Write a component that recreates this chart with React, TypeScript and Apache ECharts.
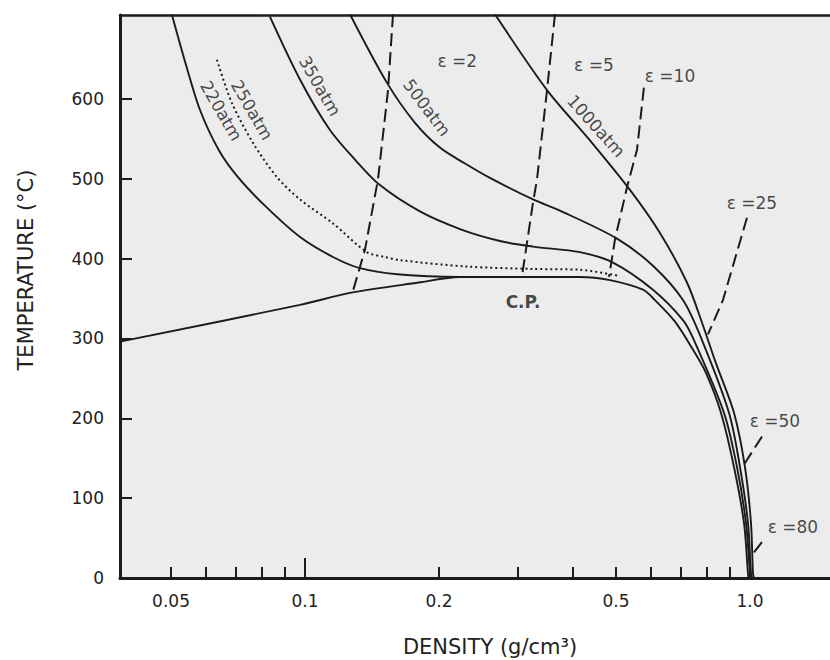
import React, { useEffect, useRef } from "react";
import * as echarts from "echarts";

// Axis ticks / labels
const DENSITY_TICKS = [0.05, 0.06, 0.07, 0.08, 0.09, 0.1, 0.2, 0.3, 0.4, 0.5, 0.6, 0.7, 0.8, 0.9, 1.0];
const DENSITY_LABELS = [0.05, 0.1, 0.2, 0.5, 1.0];
const TEMP_TICKS = [0, 100, 200, 300, 400, 500, 600];

// [density g/cm3, temperature C]
const SAT_VAPOR = [[0.0384, 296], [0.0975, 342], [0.1262, 357], [0.18, 370], [0.223, 377], [0.25, 377]];
const ATM_220 = [
  [0.0502, 706], [0.054, 643], [0.0581, 586], [0.064, 536], [0.0707, 502], [0.0817, 465],
  [0.0975, 427], [0.1156, 402], [0.1329, 388], [0.1635, 380], [0.223, 377], [0.304, 377],
  [0.415, 377], [0.4847, 373], [0.5748, 361], [0.6116, 348], [0.6785, 321], [0.7445, 286],
  [0.7963, 257], [0.8605, 207], [0.9206, 139], [0.9694, 69], [0.9897, 6], [0.9923, 0],
];
const ATM_250 = [
  [0.0634, 649], [0.0685, 595], [0.0764, 545], [0.0865, 502], [0.0975, 474], [0.1156, 444],
  [0.1378, 408], [0.1512, 402], [0.1635, 398], [0.2312, 390], [0.3254, 387], [0.4149, 386],
  [0.5104, 378],
];
const ATM_350 = [
  [0.0834, 703], [0.0975, 624], [0.1138, 561], [0.1295, 524], [0.1474, 492], [0.1813, 459],
  [0.223, 437], [0.2743, 422], [0.3254, 415], [0.4149, 408], [0.4922, 395], [0.6053, 361],
  [0.707, 323], [0.7484, 298], [0.8741, 207], [0.935, 139], [0.9795, 69], [1.0, 6], [1.0026, 0],
];
const ATM_500 = [
  [0.1262, 706], [0.1529, 620], [0.1767, 570], [0.201, 539], [0.2289, 519], [0.2604, 501],
  [0.3254, 474], [0.3741, 460], [0.5025, 425], [0.6053, 391], [0.707, 348], [0.78, 298],
  [0.8971, 207], [0.9496, 139], [0.9897, 69], [1.0052, 6], [1.0104, 0],
];
const ATM_1000 = [
  [0.2673, 706], [0.3499, 611], [0.4369, 548], [0.5374, 486], [0.6277, 432], [0.7218, 370],
  [0.78, 320], [0.8385, 269], [0.9206, 207], [0.9744, 139], [1.0052, 69], [1.0156, 6], [1.021, 0],
];
const EPS_2 = [[0.1577, 706], [0.1537, 611], [0.1459, 499], [0.1364, 411], [0.1275, 355]];
const EPS_5 = [[0.3646, 706], [0.3499, 611], [0.3322, 499], [0.3254, 470], [0.3074, 378]];
const EPS_10 = [[0.5777, 614], [0.5573, 536], [0.5296, 490], [0.4974, 424], [0.4822, 377]];
const EPS_25 = [[0.9846, 451], [0.8696, 348], [0.8045, 305]];
const EPS_50 = [[1.064, 177], [0.959, 138]];
const EPS_80 = [[1.064, 45], [1.0104, 29]];

// labels: [density, temperature, text, rotation(deg)]
const CURVE_LABELS: [number, number, string, number][] = [
  [0.0648, 585, "220atm", -60],
  [0.076, 586, "250atm", -60],
  [0.108, 616, "350atm", -60],
  [0.188, 589, "500atm", -53],
  [0.451, 566, "1000atm", -48],
];
const EPS_LABELS: [number, number, string][] = [
  [0.22, 647, "ε =2"],
  [0.446, 643, "ε =5"],
  [0.661, 629, "ε =10"],
  [1.01, 469, "ε =25"],
  [1.138, 197, "ε =50"],
  [1.249, 64, "ε =80"],
];
const CP_LABEL: [number, number, string] = [0.309, 346, "C.P."];

const X_MIN = 0.0384;
const X_MAX = 1.513;
const Y_MAX = 705;

const INK = "#1b1b1b";
const FONT = "DejaVu Sans";

export default function App() {
  const ref = useRef<HTMLDivElement>(null);

  useEffect(() => {
    const chart = echarts.init(ref.current!, null, { renderer: "svg", width: 830, height: 660 });

    const curve = (name: string, data: number[][], type: any = "solid", smooth: any = 0.3) => ({
      type: "line",
      name,
      data,
      symbol: "none",
      showSymbol: false,
      smooth,
      silent: true,
      z: 3,
      lineStyle: { color: INK, width: type === "solid" ? 1.9 : 2, type },
    });

    const fmtDensity = (v: number) => {
      const r = Number(v.toPrecision(3));
      return Math.abs(r - 1) < 1e-6 ? "1.0" : String(r);
    };

    const labelSeries = {
      type: "scatter",
      symbolSize: 0,
      silent: true,
      z: 5,
      data: [
        ...CURVE_LABELS.map(([d, t, s, r]) => ({
          value: [d, t],
          label: { show: true, position: "inside", formatter: s, rotate: r, fontSize: 17 },
        })),
        ...EPS_LABELS.map(([d, t, s]) => ({
          value: [d, t],
          label: { show: true, position: "inside", formatter: s, fontSize: 17 },
        })),
        {
          value: [CP_LABEL[0], CP_LABEL[1]],
          label: { show: true, position: "inside", formatter: CP_LABEL[2], fontSize: 17, fontWeight: "bold" },
        },
      ],
      label: { color: INK, fontFamily: FONT, align: "center", verticalAlign: "middle" },
    };

    chart.setOption({
      animation: false,
      backgroundColor: "#ffffff",
      textStyle: { fontFamily: FONT },
      grid: {
        left: 120,
        right: 0,
        top: 15,
        bottom: 82,
        show: true,
        backgroundColor: "#ececec",
        borderWidth: 0,
        containLabel: false,
        outerBoundsMode: "none",
      },
      xAxis: [
        {
          type: "log",
          logBase: 10,
          min: X_MIN,
          max: X_MAX,
          position: "bottom",
          axisLine: { show: true, onZero: false, lineStyle: { color: INK, width: 3 } },
          axisTick: { show: true, inside: true, length: 11, customValues: DENSITY_TICKS, lineStyle: { color: INK, width: 2 } },
          axisLabel: {
            show: true,
            customValues: DENSITY_LABELS,
            formatter: fmtDensity,
            margin: 14,
            fontSize: 17,
            fontFamily: FONT,
            color: "#222",
          },
          splitLine: { show: false },
          minorTick: { show: false },
        },
        {
          type: "log",
          logBase: 10,
          min: X_MIN,
          max: X_MAX,
          position: "top",
          axisLine: { show: true, onZero: false, lineStyle: { color: INK, width: 2.5 } },
          axisTick: { show: false },
          axisLabel: { show: false },
          splitLine: { show: false },
        },
        {
          type: "log",
          logBase: 10,
          min: X_MIN,
          max: X_MAX,
          position: "bottom",
          axisLine: { show: false },
          axisTick: { show: true, inside: true, length: 20, customValues: [0.1], lineStyle: { color: INK, width: 2 } },
          axisLabel: { show: false },
          splitLine: { show: false },
        },
      ],
      yAxis: {
        type: "value",
        min: 0,
        max: Y_MAX,
        interval: 100,
        axisLine: { show: true, onZero: false, lineStyle: { color: INK, width: 3 } },
        axisTick: { show: true, inside: true, length: 12, customValues: TEMP_TICKS, lineStyle: { color: INK, width: 2 } },
        axisLabel: { show: true, customValues: TEMP_TICKS, margin: 16, fontSize: 17, fontFamily: FONT, color: "#222" },
        splitLine: { show: false },
      },
      series: [
        curve("Saturated vapour", SAT_VAPOR, "solid", 0.3),
        curve("220 atm", ATM_220),
        curve("250 atm", ATM_250, [2, 3]),
        curve("350 atm", ATM_350),
        curve("500 atm", ATM_500),
        curve("1000 atm", ATM_1000),
        curve("ε=2", EPS_2, [13, 6], false),
        curve("ε=5", EPS_5, [13, 6], false),
        curve("ε=10", EPS_10, [13, 6], false),
        curve("ε=25", EPS_25, [13, 6], false),
        curve("ε=50", EPS_50, [13, 6], false),
        curve("ε=80", EPS_80, [13, 6], false),
        labelSeries,
      ],
      graphic: [
        {
          type: "text",
          x: 26,
          y: 270,
          rotation: Math.PI / 2,
          style: {
            text: "TEMPERATURE (°C)",
            font: `21px "${FONT}"`,
            fill: "#222",
            align: "center",
            verticalAlign: "middle",
          },
        },
        {
          type: "text",
          x: 490,
          y: 647,
          style: {
            text: "DENSITY (g/cm³)",
            font: `21px "${FONT}"`,
            fill: "#222",
            align: "center",
            verticalAlign: "middle",
          },
        },
      ],
    });

    return () => chart.dispose();
  }, []);

  return (
    <div
      ref={ref}
      style={{ position: "fixed", left: 0, top: 0, width: 830, height: 660, background: "#fff" }}
    />
  );
}
